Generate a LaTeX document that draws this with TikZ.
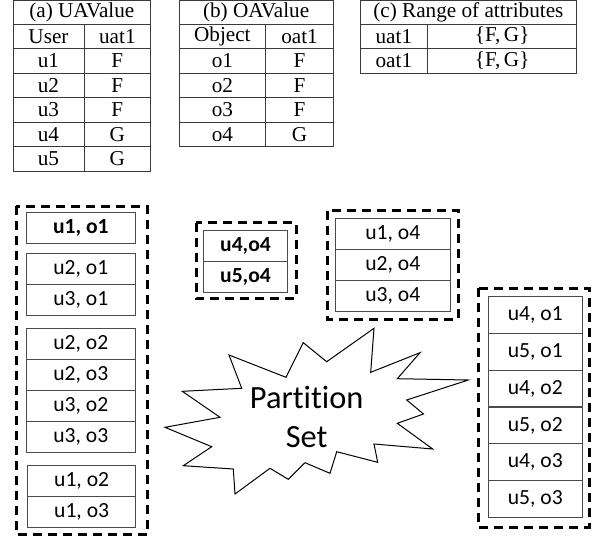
\documentclass[tikz,border=0pt]{standalone}
\usepackage{fontspec}
\setmainfont{Liberation Serif}
\newfontfamily\carlito[Ligatures=NoCommon]{Carlito}
\definecolor{cGrid}{HTML}{3A3A3A}
\definecolor{cBox}{HTML}{4A4A4A}

\begin{document}
\begin{tikzpicture}[
    x=0.5pt, y=-0.5pt,
    % ---------------------------------------------------------
    % BASE STYLES
    % ---------------------------------------------------------
    cell/.style={
        rectangle,
        draw=cGrid,
        line width=0.5pt,
        anchor=north west,
        inner sep=0pt,
        outer sep=0pt,
        minimum width=#1,
        minimum height=12.25pt,
        font=\fontsize{10.6}{12}\selectfont
    },
    pair/.style={
        rectangle,
        draw=cBox,
        line width=0.5pt,
        anchor=north west,
        inner sep=0pt,
        outer sep=0pt,
        minimum width=#1,
        minimum height=15.5pt,
        font=\carlito\fontsize{10.8}{13}\selectfont
    },
    group box/.style={
        draw=black,
        line width=1.5pt,
        dash pattern=on 4.5pt off 3pt
    },
    burst/.style={
        draw=black,
        line width=0.5pt,
        line join=miter
    }
]
\useasboundingbox (0,0) rectangle (595,542);

% ---------------------------------------------------------
% 1. TABLE (a) UAValue
% ---------------------------------------------------------
\node[cell=68.85pt, minimum height=11.75pt] (uaTitle) at (13,0.5) {(a) UAValue};
\node[cell=35.5pt] (uaHeadA) at (13,24) {User};
\node[cell=33.35pt] (uaHeadB) at (84,24) {uat1};
\node[cell=35.5pt] (uaOneA) at (13,48.5) {u1};
\node[cell=33.35pt] (uaOneB) at (84,48.5) {F};
\node[cell=35.5pt] (uaTwoA) at (13,73) {u2};
\node[cell=33.35pt] (uaTwoB) at (84,73) {F};
\node[cell=35.5pt] (uaThreeA) at (13,97.5) {u3};
\node[cell=33.35pt] (uaThreeB) at (84,97.5) {F};
\node[cell=35.5pt] (uaFourA) at (13,122) {u4};
\node[cell=33.35pt] (uaFourB) at (84,122) {G};
\node[cell=35.5pt] (uaFiveA) at (13,146.5) {u5};
\node[cell=33.35pt] (uaFiveB) at (84,146.5) {G};

% ---------------------------------------------------------
% 2. TABLE (b) OAValue
% ---------------------------------------------------------
\node[cell=77.15pt, minimum height=11.75pt] (oaTitle) at (179,0.5) {(b) OAValue};
\node[cell=43.35pt] (oaHeadA) at (179,24) {Object};
\node[cell=33.8pt] (oaHeadB) at (265.7,24) {oat1};
\node[cell=43.35pt] (oaOneA) at (179,48.5) {o1};
\node[cell=33.8pt] (oaOneB) at (265.7,48.5) {F};
\node[cell=43.35pt] (oaTwoA) at (179,73) {o2};
\node[cell=33.8pt] (oaTwoB) at (265.7,73) {F};
\node[cell=43.35pt] (oaThreeA) at (179,97.5) {o3};
\node[cell=33.8pt] (oaThreeB) at (265.7,97.5) {F};
\node[cell=43.35pt] (oaFourA) at (179,122) {o4};
\node[cell=33.8pt] (oaFourB) at (265.7,122) {G};

% ---------------------------------------------------------
% 3. TABLE (c) Range of attributes
% ---------------------------------------------------------
\node[cell=108.35pt, minimum height=11.75pt] (rgTitle) at (360,0.5) {(c) Range of attributes};
\node[cell=33.85pt] (rgUserA) at (360,24) {uat1};
\node[cell=74.5pt] (rgUserB) at (427.7,24) {\{F,\,G\}};
\node[cell=33.85pt] (rgObjA) at (360,48.5) {oat1};
\node[cell=74.5pt] (rgObjB) at (427.7,48.5) {\{F,\,G\}};

% ---------------------------------------------------------
% 4. PARTITIONS (dashed groups)
% ---------------------------------------------------------
% Left group
\draw[group box] (16,206) rectangle (147.3,534.3);
\node[pair=54.15pt] (pUoneOone) at (26.7,212.3) {\bfseries u1, o1};
\node[pair=54.15pt] (pUtwoOone) at (26.7,253.3) {u2, o1};
\node[pair=54.15pt] (pUthreeOone) at (26.7,284.3) {u3, o1};
\node[pair=54.15pt] (pUtwoOtwo) at (26.7,328.3) {u2, o2};
\node[pair=54.15pt] (pUtwoOthree) at (26.7,359.3) {u2, o3};
\node[pair=54.15pt] (pUthreeOtwo) at (26.7,390.3) {u3, o2};
\node[pair=54.15pt] (pUthreeOthree) at (26.7,421.3) {u3, o3};
\node[pair=54.15pt] (pUoneOtwo) at (27.5,465.7) {u1, o2};
\node[pair=54.15pt] (pUoneOthree) at (27.5,496.7) {u1, o3};

% Small middle group
\draw[group box] (196,222.7) rectangle (296,298.3);
\node[pair=42.2pt] (pUfourOfour) at (203.3,230.7) {\bfseries u4,o4};
\node[pair=42.2pt] (pUfiveOfour) at (203.3,261.7) {\bfseries u5,o4};

% Upper right group
\draw[group box] (327.7,210.7) rectangle (458.3,319);
\node[pair=57.15pt] (pUoneOfour) at (335.7,218.3) {u1, o4};
\node[pair=57.15pt] (pUtwoOfour) at (335.7,249.4) {u2, o4};
\node[pair=57.15pt] (pUthreeOfour) at (335.7,280.5) {u3, o4};

% Right group
\draw[group box] (478.3,288.3) rectangle (589.3,527.3);
\node[pair=47pt, minimum height=18.38pt] (pUfourOone) at (488.3,296.7) {u4, o1};
\node[pair=47pt, minimum height=18.38pt] (pUfiveOone) at (488.3,333.5) {u5, o1};
\node[pair=47pt, minimum height=18.38pt] (pUfourOtwo) at (488.3,370.2) {u4, o2};
\node[pair=47pt, minimum height=18.38pt] (pUfiveOtwo) at (488.3,407) {u5, o2};
\node[pair=47pt, minimum height=18.38pt] (pUfourOthree) at (488.3,443.7) {u4, o3};
\node[pair=47pt, minimum height=18.38pt] (pUfiveOthree) at (488.3,480.5) {u5, o3};

% ---------------------------------------------------------
% 5. PARTITION SET BURST
% ---------------------------------------------------------
\draw[burst] (165,427.3) -- (220,417.3) -- (182.3,391.3) -- (241.7,388.3)
    -- (229,355) -- (286,377.3) -- (303.3,342.7) -- (326.7,361.7)
    -- (374,328.3) -- (370.7,372.3) -- (420,352.7) -- (397.3,378.7)
    -- (468.3,380) -- (406.7,400) -- (423.5,414) -- (397.3,423.3)
    -- (432.7,449) -- (374,444) -- (377.7,462.3) -- (336.7,451.7)
    -- (330,473.3) -- (305,462.7) -- (288.3,479.3) -- (270,468.3)
    -- (235,494) -- (233.3,469) -- (183.3,465.7) -- (211.7,446.7) -- cycle;
\node[align=center, inner sep=0pt, font=\carlito\fontsize{16.2}{19.4}\selectfont] (burstLabel) at (306.7,416.7) {Partition\\Set};

\end{tikzpicture}
\end{document}
